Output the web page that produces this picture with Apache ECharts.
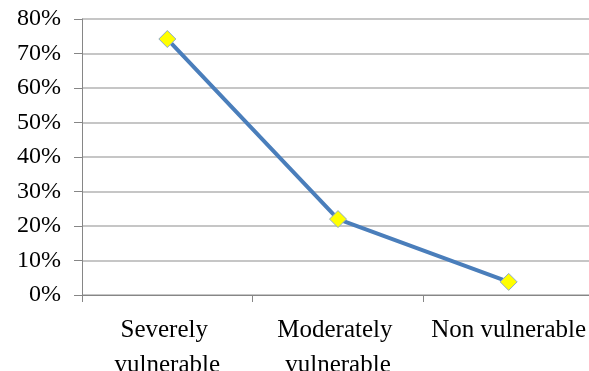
<!DOCTYPE html>
<html>
<head>
<meta charset="utf-8">
<script src="https://cdn.jsdelivr.net/npm/echarts@6/dist/echarts.min.js"></script>
<style>
  html, body { margin: 0; padding: 0; background: #fff; }
  #chart { width: 589px; height: 371px; }
</style>
</head>
<body>
<div id="chart"></div>
<script>
// Share of households by vulnerability class
const categories = ['Severely vulnerable', 'Moderately vulnerable', 'Non vulnerable'];
const shares = [74.2, 22.0, 3.8];
const yTicks = [0, 10, 20, 30, 40, 50, 60, 70, 80];

const chart = echarts.init(document.getElementById('chart'), null, { renderer: 'canvas' });

chart.setOption({
  animation: false,
  backgroundColor: '#ffffff',
  grid: {
    left: 82, right: -5, top: 19, bottom: 76,
    containLabel: false,
    outerBoundsMode: 'none'
  },
  xAxis: {
    type: 'category',
    data: categories,
    boundaryGap: true,
    axisLine: { lineStyle: { color: '#868686', width: 1 } },
    axisTick: { show: true, length: 7, lineStyle: { color: '#868686' } },
    axisLabel: {
      color: '#000',
      fontFamily: '"Liberation Serif", "Times New Roman", serif',
      fontSize: 25,
      lineHeight: 35,
      margin: 18,
      width: 168,
      overflow: 'break',
      interval: 0,
      hideOverlap: false
    }
  },
  yAxis: {
    type: 'value',
    min: yTicks[0],
    max: yTicks[yTicks.length - 1],
    interval: 10,
    axisLine: { show: true, lineStyle: { color: '#868686', width: 1 } },
    axisTick: { show: true, length: 8, lineStyle: { color: '#868686' } },
    splitLine: { show: true, lineStyle: { color: '#b3b3b3', width: 1.5 } },
    axisLabel: {
      color: '#000',
      fontFamily: '"Liberation Serif", "Times New Roman", serif',
      fontSize: 24,
      margin: 21,
      formatter: v => v + '%'
    }
  },
  series: [{
    type: 'line',
    data: shares,
    symbol: 'diamond',
    symbolSize: 17,
    lineStyle: { color: '#4a7ebb', width: 4 },
    itemStyle: { color: '#ffff00', borderColor: '#8eaacc', borderWidth: 1 },
    z: 3
  }]
});
</script>
</body>
</html>
